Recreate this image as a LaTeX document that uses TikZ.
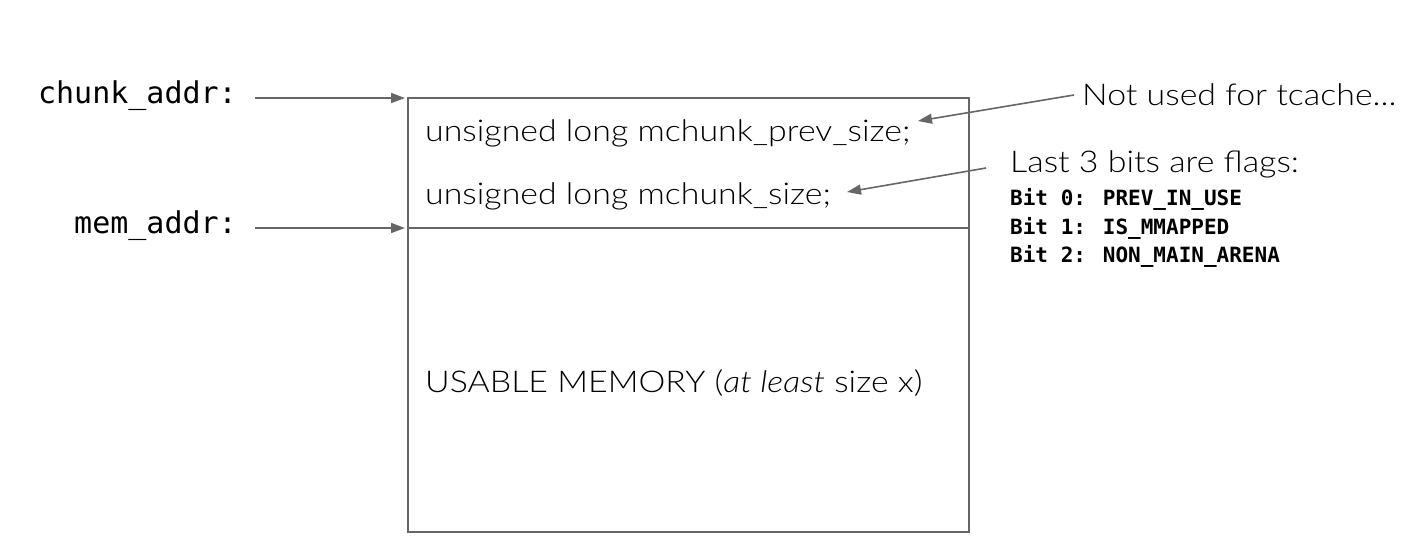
\documentclass[tikz,border=0pt]{standalone}
\usepackage{fontspec}
\setmainfont{Lato Light}
\newfontfamily\monof{DejaVu Sans Mono}
\usetikzlibrary{arrows.meta}
\newcommand{\wide}[1]{\scalebox{1.13}[1]{#1}}
\begin{document}
\begin{tikzpicture}[x=1pt,y=-1pt,
  conn/.style={draw=black!60, line width=1.6pt, -{Triangle[length=14pt,width=10pt]}},
  boxline/.style={draw=black!60, line width=1.6pt},
  lbl/.style={anchor=west, inner sep=0pt, font=\fontsize{30}{32}\selectfont},
  mlbl/.style={anchor=east, inner sep=0pt, font=\monof\fontsize{30}{32}\selectfont},
  bits/.style={anchor=west, inner sep=0pt, font=\monof\bfseries\fontsize{21}{24}\selectfont}]
\useasboundingbox (0,0) rectangle (1421,547);
\draw[boxline] (408,98) rectangle (969,532);
\draw[boxline] (408,228) -- (969,228);
\coordinate (cA) at (405,98);
\coordinate (mA) at (405,228);
\node[mlbl] (chunk) at (237,96) {chunk\_addr:};
\node[mlbl] (mem) at (237,226) {mem\_addr:};
\draw[conn] (255,98) -- (cA);
\draw[conn] (255,228) -- (mA);
\node[lbl] (prev) at (425,133) {\wide{unsigned long mchunk\_prev\_size;}};
\node[lbl] (size) at (425,196) {\wide{unsigned long mchunk\_size;}};
\node[lbl] (usable) at (425,383) {\wide{USABLE MEMORY (\textit{at least} size x)}};
\node[lbl] (notused) at (1082,95) {\wide{Not used for tcache...}};
\node[lbl] (last) at (1010,164) {\wide{Last 3 bits are flags:}};
\node[bits] (b0) at (1010,199) {Bit 0: PREV\_IN\_USE};
\node[bits] (b1) at (1010,228) {Bit 1: IS\_MMAPPED};
\node[bits] (b2) at (1010,256) {Bit 2: NON\_MAIN\_ARENA};
\coordinate (t1) at (918,121);
\coordinate (t2) at (847,192);
\draw[conn] (notused.west) ++(-8,0) -- (t1);
\draw[conn] (last.west) ++(-24,4) -- (t2);
\end{tikzpicture}
\end{document}
